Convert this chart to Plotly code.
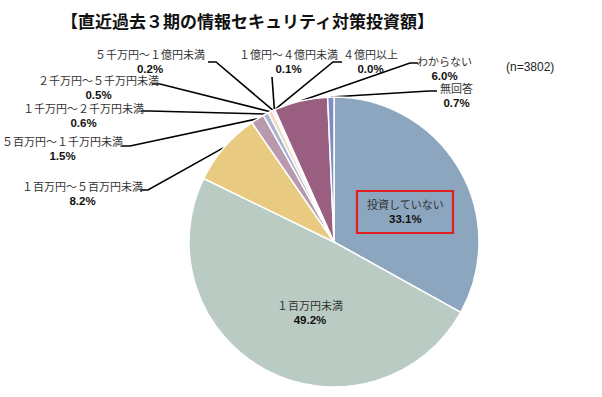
import math
import plotly.graph_objects as go

# ---- data ----
categories = ["投資していない", "１百万円未満", "１百万円～５百万円未満", "５百万円～１千万円未満",
              "１千万円～２千万円未満", "２千万円～５千万円未満", "５千万円～１億円未満",
              "１億円～４億円未満", "４億円以上", "わからない", "無回答"]
values = [33.1, 49.2, 8.2, 1.5, 0.6, 0.5, 0.2, 0.1, 0.0, 6.0, 0.7]
colors = ["#8CA6C0", "#B9CBC3", "#E8CB80", "#B999AD", "#A9B3D2", "#F1D9C4",
          "#C8B0C8", "#D8C8B8", "#C0C0C0", "#9A5E80", "#7F8CC2"]
title_text = "【直近過去３期の情報セキュリティ対策投資額】"
n_text = "(n=3802)"

W, H = 602, 397
CX, CY, R = 334, 242, 145  # pie centre / radius in pixels

# label placement (pixel coords of text centre) and leader elbow points
label_pos = {
    "投資していない": (405, 211, None),
    "１百万円未満": (310, 313, None),
    "１百万円～５百万円未満": (82, 194, [(140, 190), (148, 190)]),
    "５百万円～１千万円未満": (62, 149, [(122, 146), (130, 146)]),
    "１千万円～２千万円未満": (83, 116, [(141, 111), (149, 111)]),
    "２千万円～５千万円未満": (98, 88, [(152, 84), (160, 84)]),
    "５千万円～１億円未満": (150, 62, [(208, 62), (216, 62)]),
    "１億円～４億円未満": (288, 62, [(272, 77)]),
    "４億円以上": (370, 62, [(342, 62), (333, 62)]),
    "わからない": (444, 69, [(418, 63), (410, 63)]),
    "無回答": (456, 95, [(437, 91), (429, 91)]),
}

fig = go.Figure()

fig.add_trace(go.Pie(
    labels=categories, values=values, sort=False, direction="clockwise",
    textinfo="none", hoverinfo="skip", showlegend=False,
    marker=dict(colors=colors, line=dict(color="white", width=1.5)),
    domain=dict(x=[(CX - R) / W, (CX + R) / W], y=[1 - (CY + R) / H, 1 - (CY - R) / H]),
))

font_fam = "Liberation Sans, Noto Sans CJK JP, sans-serif"
total = sum(values)
cum = 0.0
for cat, v in zip(categories, values):
    mid = (cum + v / 2) / total
    cum += v
    ang = 2 * math.pi * mid
    ax_, ay_ = CX + R * math.sin(ang), CY - R * math.cos(ang)
    tx, ty, elbow = label_pos[cat]
    if elbow:
        pts = elbow + [(ax_, ay_)]
        fig.add_trace(go.Scatter(
            x=[p[0] for p in pts], y=[p[1] for p in pts], mode="lines",
            line=dict(color="black", width=1.6), hoverinfo="skip", showlegend=False,
            xaxis="x", yaxis="y"))
    fig.add_annotation(
        x=tx, y=ty, xref="x", yref="y", showarrow=False,
        text=(f"<span style='color:#333333'>{cat}</span><br>"
              f"<span style='font-size:11.5px;color:#111111'><b>{v:.1f}%</b></span>"),
        align="center",
        font=dict(family=font_fam, size=11, color="#222222"))

# highlight box around the 投資していない label
fig.add_shape(type="rect", xref="x", yref="y", x0=357, y0=191, x1=453, y1=233,
              line=dict(color="#E02020", width=2.2), fillcolor="rgba(0,0,0,0)")

fig.add_annotation(x=247, y=20, xref="x", yref="y", showarrow=False, text=f"<b>{title_text}</b>",
                   font=dict(family="Noto Sans CJK JP", size=17, color="#111111"))
fig.add_annotation(x=530, y=67, xref="x", yref="y", showarrow=False, text=n_text,
                   font=dict(family=font_fam, size=12, color="#222222"))

fig.update_layout(
    width=W, height=H, margin=dict(l=0, r=0, t=0, b=0),
    paper_bgcolor="white", plot_bgcolor="rgba(0,0,0,0)",
    xaxis=dict(range=[0, W], visible=False, fixedrange=True, domain=[0, 1]),
    yaxis=dict(range=[H, 0], visible=False, fixedrange=True, domain=[0, 1]),
)

fig.write_html("out.html", config={"displayModeBar": False},
               post_script="document.body.style.margin='0';")
